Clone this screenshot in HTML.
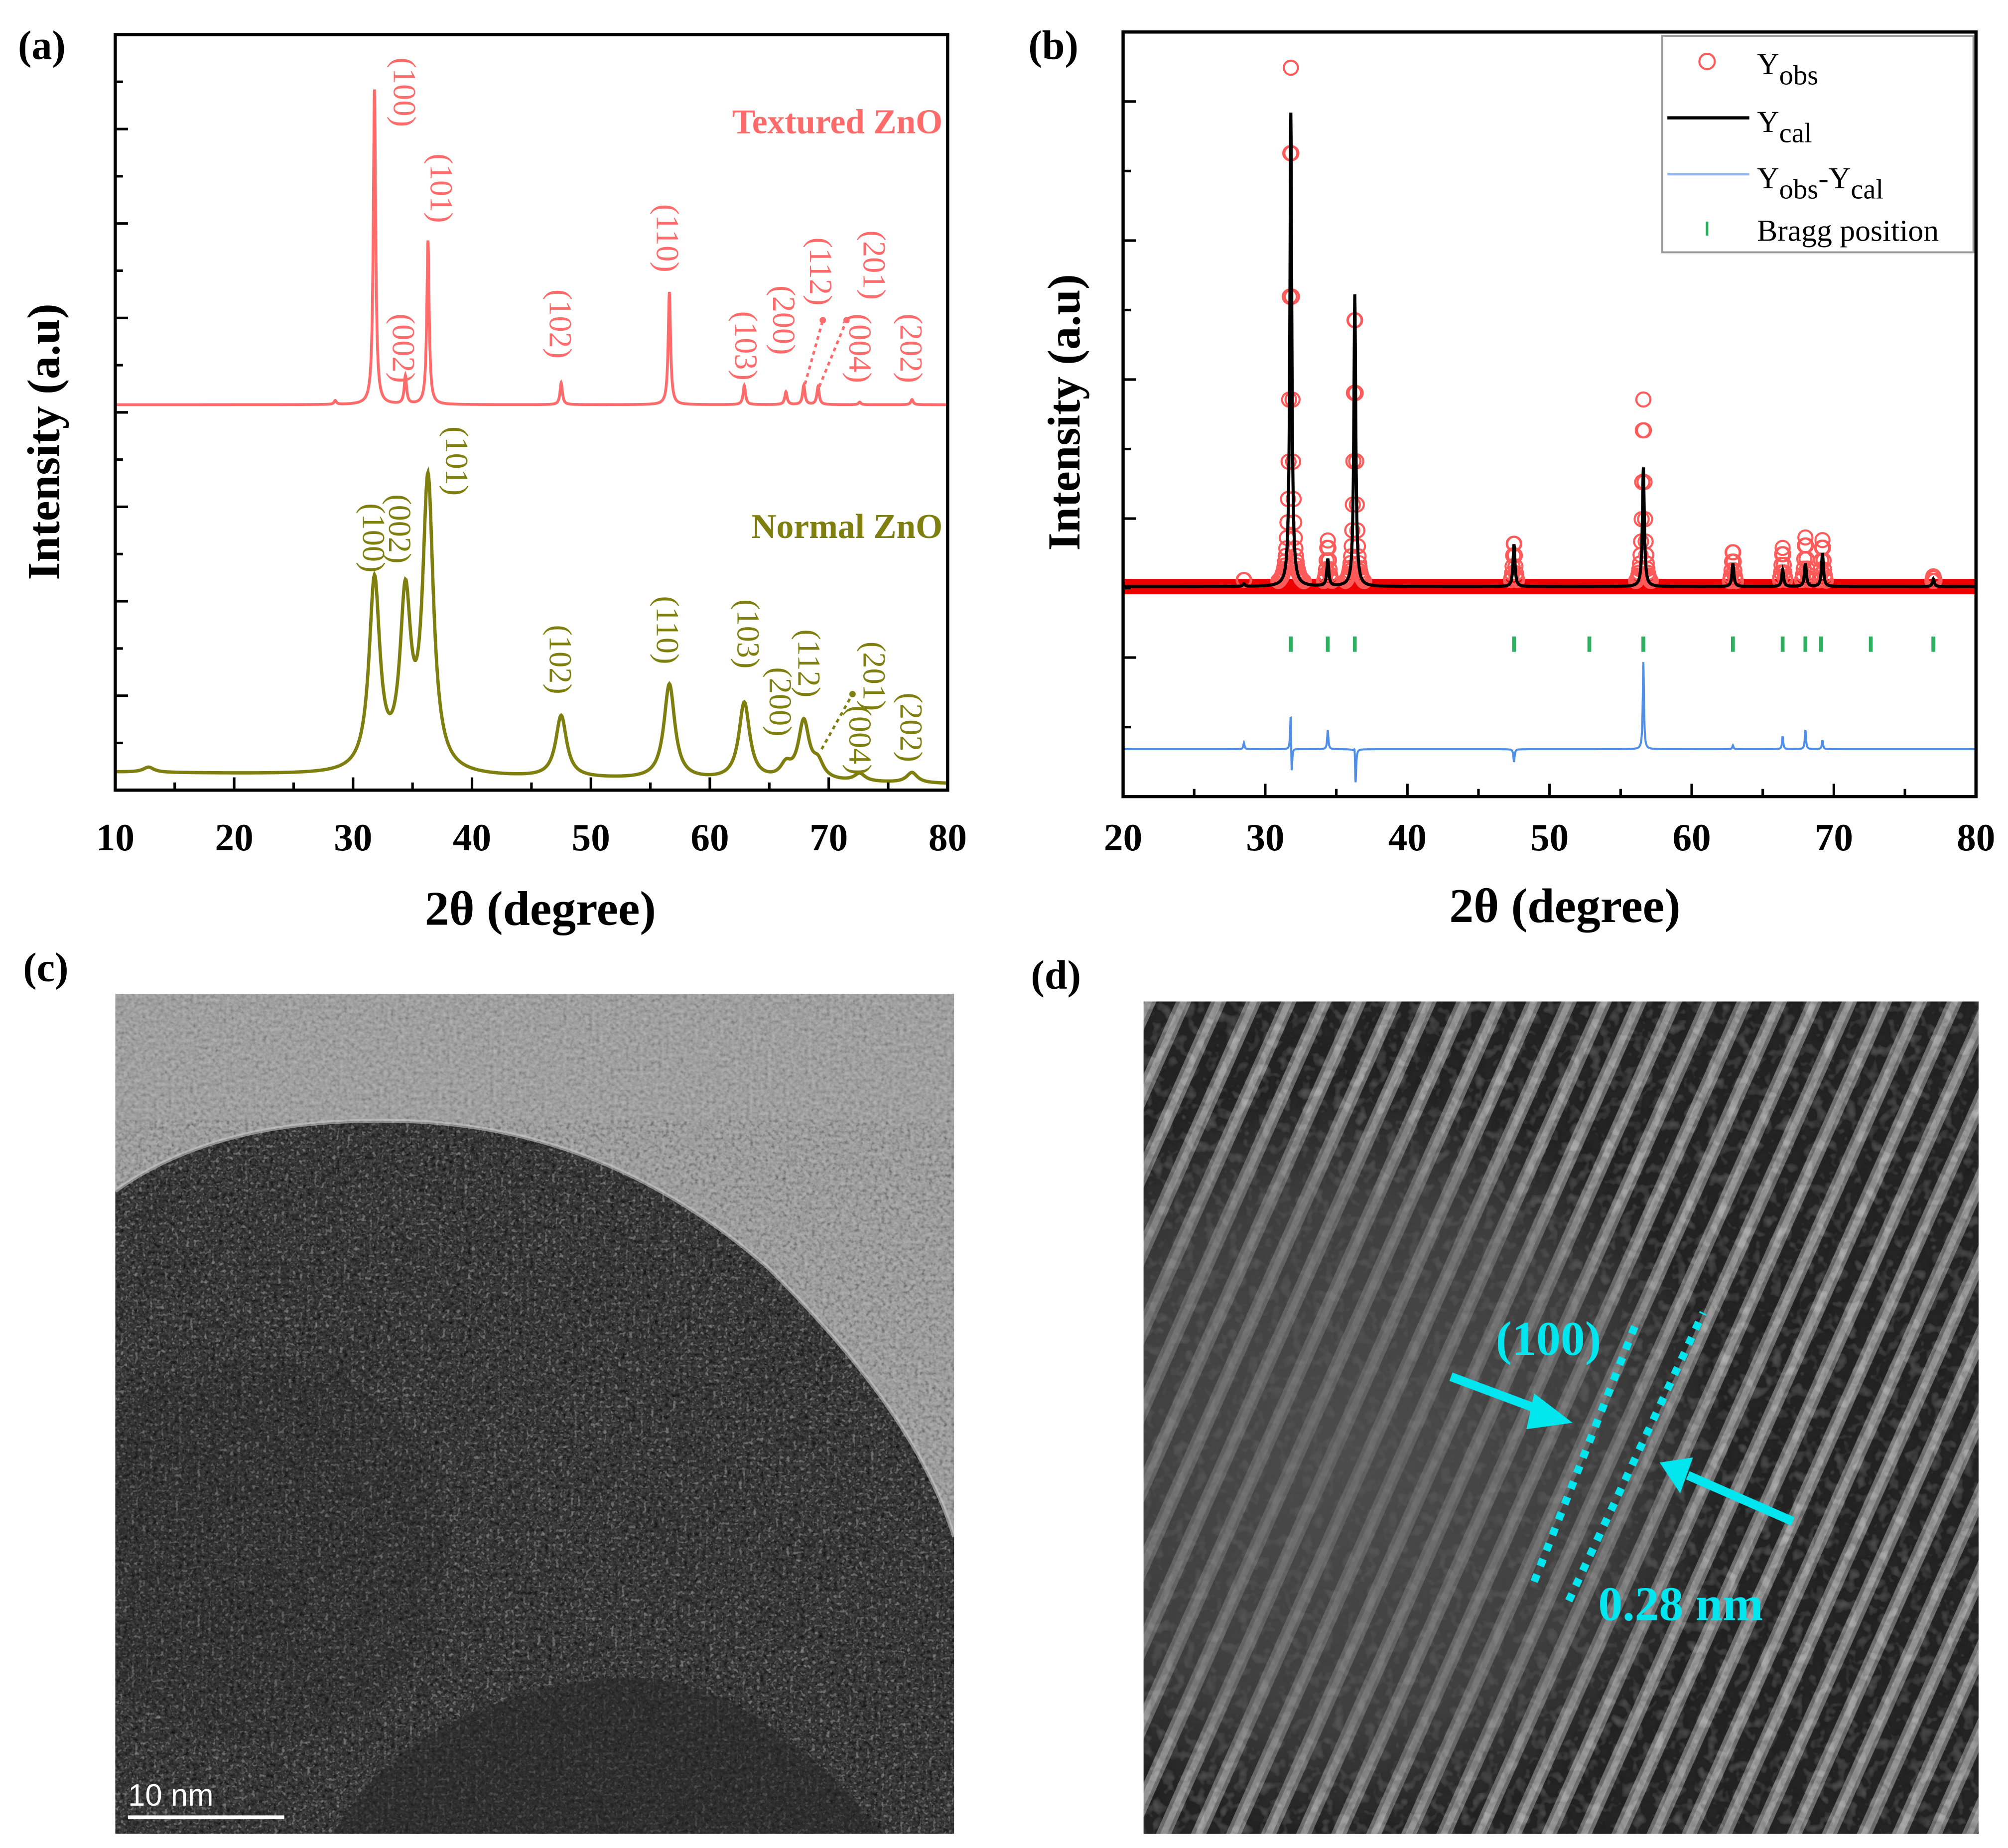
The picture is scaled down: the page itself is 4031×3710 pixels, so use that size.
<!DOCTYPE html>
<html><head><meta charset="utf-8"><style>
html,body{margin:0;padding:0;background:#fff;}
svg{display:block;}
text{font-family:"Liberation Serif",serif;}
</style></head><body>
<svg id="fig" width="4031" height="3710" viewBox="0 0 1568 1443" preserveAspectRatio="none" xmlns="http://www.w3.org/2000/svg">
<defs>
<filter id="noiseC" x="0" y="0" width="1" height="1">
<feTurbulence type="fractalNoise" baseFrequency="0.35" numOctaves="2" seed="3" result="n"/>
<feColorMatrix type="saturate" values="0" in="n" result="g"/>
<feComposite in="g" in2="SourceGraphic" operator="arithmetic" k1="0" k2="0.55" k3="0.7" k4="-0.28"/>
</filter>
<filter id="noiseD" x="0" y="0" width="1" height="1">
<feTurbulence type="fractalNoise" baseFrequency="0.12" numOctaves="2" seed="7" result="n"/>
<feColorMatrix type="saturate" values="0" in="n" result="g"/>
<feComposite in="g" in2="SourceGraphic" operator="arithmetic" k1="0" k2="0.6" k3="0.8" k4="-0.3"/>
</filter>
<clipPath id="clipC"><rect x="90" y="776" width="655" height="656"/></clipPath>
<pattern id="stripes" patternUnits="userSpaceOnUse" width="25" height="25" patternTransform="rotate(24)">
<rect width="25" height="25" fill="#323232"/>
<rect x="7" width="11" height="25" fill="#9a9a9a"/>
<rect x="10" width="5" height="25" fill="#d0d0d0"/>
</pattern>
<radialGradient id="dfade" cx="0.25" cy="0.55" r="0.45">
<stop offset="0" stop-color="#5a5a5a" stop-opacity="0.75"/>
<stop offset="0.7" stop-color="#5a5a5a" stop-opacity="0.5"/>
<stop offset="1" stop-color="#5a5a5a" stop-opacity="0"/>
</radialGradient>
</defs>

<text x="14" y="46" font-size="32" font-weight="bold">(a)</text>
<text x="803" y="46" font-size="32" font-weight="bold">(b)</text>
<text x="18" y="766" font-size="32" font-weight="bold">(c)</text>
<text x="805" y="772" font-size="32" font-weight="bold">(d)</text>

<g id="chartA"></g>
<g id="chartB"></g>

<g clip-path="url(#clipC)">
<rect x="90" y="776" width="655" height="656" fill="#a6a6a6" filter="url(#noiseC)"/>
<path d="M90,930 C160,880 250,872 330,876 C430,882 520,920 600,990 C660,1050 720,1120 745,1200 L745,1432 L90,1432 Z" fill="#727272" filter="url(#noiseC)"/>
<path d="M90,930 C160,880 250,872 330,876 C430,882 520,920 600,990 C660,1050 720,1120 745,1200" fill="none" stroke="#c8c8c8" stroke-width="3" opacity="0.6"/>
<path d="M260,1432 C300,1360 380,1320 480,1310 C560,1305 630,1360 690,1432 Z" fill="#262626" opacity="0.5"/>
<ellipse cx="200" cy="1210" rx="150" ry="150" fill="#202020" opacity="0.15"/>
<line x1="100" y1="1419" x2="222" y2="1419" stroke="#fff" stroke-width="3"/>
<text x="100" y="1410" font-size="24" fill="#fff" style="font-family:'Liberation Sans',sans-serif">10 nm</text>
</g>

<g>
<rect x="893" y="782" width="652" height="650" fill="url(#stripes)"/>
<rect x="893" y="782" width="652" height="650" fill="#777" filter="url(#noiseD)" opacity="0.4"/>
<rect x="893" y="782" width="652" height="650" fill="url(#dfade)"/>
<g stroke="#00e5ee" stroke-width="6" stroke-dasharray="6,7" fill="none">
<line x1="1198" y1="1235" x2="1278" y2="1032"/>
<line x1="1225" y1="1250" x2="1330" y2="1025"/>
</g>
<g fill="#00e5ee" stroke="#00e5ee">
<line x1="1133" y1="1075" x2="1208" y2="1103" stroke-width="7"/>
<polygon points="1228,1111 1198,1088 1192,1116" stroke="none"/>
<line x1="1400" y1="1188" x2="1318" y2="1152" stroke-width="7"/>
<polygon points="1296,1142 1322,1138 1312,1166" stroke="none"/>
</g>
<text x="1168" y="1058" font-size="38" font-weight="bold" fill="#00e5ee">(100)</text>
<text x="1248" y="1265" font-size="38" font-weight="bold" fill="#00e5ee">0.28 nm</text>
</g>
</svg>
<script>
// ---------- Panel (a) data ----------
const texPeakPos = [28.5, 31.8, 34.4, 36.3, 47.5, 56.6, 62.9, 66.4, 67.9, 69.1, 72.6, 77.0];
const texPeakH   = [3, 246, 22, 128, 17, 88, 15, 10, 15, 14, 2, 4];
const normPeakPos = [12.8, 31.8, 34.4, 36.3, 47.5, 56.6, 62.9, 66.4, 67.9, 69.1, 72.6, 77.0];
const normPeakH   = [4, 148, 130, 225, 48, 74, 60, 10, 45, 12, 6, 8];
const texLabels = ["(100)","(002)","(101)","(102)","(110)","(103)","(200)","(112)","(004)","(201)","(202)"];
const texLabelX = [34.4, 34.3, 37.5, 47.5, 56.5, 63.1, 66.3, 69.4, 72.7, 73.9, 77.0];
const texLabelY = [72, 272, 147, 253, 186, 270, 250, 212, 272, 207, 272];
const normLabels = ["(100)","(002)","(101)","(102)","(110)","(103)","(200)","(112)","(201)","(004)","(202)"];
const normLabelX = [31.8, 34.0, 38.8, 47.5, 56.5, 63.3, 66.0, 68.4, 73.9, 72.7, 77.0];
const normLabelY = [420, 413, 360, 515, 492, 495, 548, 518, 528, 578, 568];
const xTicksA = [10,20,30,40,50,60,70,80];
// ---------- Panel (b) data ----------
const calPeakPos = [28.5, 31.8, 34.4, 36.3, 47.5, 56.6, 62.9, 66.4, 68.0, 69.2, 77.0];
const calPeakH   = [2, 370, 21, 228, 33, 93, 18, 13, 18, 26, 6];
const obsPeakH   = [5, 405, 35, 218, 35, 146, 28, 30, 38, 36, 8];
const braggPos = [31.8, 34.4, 36.3, 47.5, 52.8, 56.6, 62.9, 66.4, 68.0, 69.1, 72.6, 77.0];
const diffPos = [28.5, 31.8, 31.85, 34.4, 36.3, 36.35, 47.5, 56.6, 62.9, 66.4, 68.0, 69.2];
const diffVal = [5, 42, -35, 15, 12, -32, -10, 68, 3, 10, 15, 7];
const xTicksB = [20,30,40,50,60,70,80];

const NS = "http://www.w3.org/2000/svg";
function mk(tag, attrs, parent){ const e=document.createElementNS(NS,tag); for(const k in attrs) e.setAttribute(k,attrs[k]); parent.appendChild(e); return e; }
function lor(x, pos, h, w){ let s=0; for(let i=0;i<pos.length;i++){ const d=(x-pos[i])/w; s+=h[i]/(1+d*d);} return s; }

(function(){
  const g=document.getElementById('chartA');
  const L=90,R=740,T=27,B=617, x0=10,x1=80;
  const X=v=>L+(v-x0)*(R-L)/(x1-x0);
  let d="";
  for(let v=10; v<=80; v+=0.02){ const y=316-lor(v,texPeakPos,texPeakH,0.12); d+=(d?"L":"M")+X(v).toFixed(2)+","+y.toFixed(2); }
  let p=mk('path',{d:d,fill:'none',stroke:'#ff6b6b','stroke-width':2.2},g);
  
  
  d="";
  for(let v=10; v<=80; v+=0.05){ const base=603+(v-10)*0.13; const y=base-lor(v,normPeakPos,normPeakH,0.55); d+=(d?"L":"M")+X(v).toFixed(2)+","+y.toFixed(2); }
  p=mk('path',{d:d,fill:'none',stroke:'#7f7f10','stroke-width':2.6},g);
  
  
  let f=mk('rect',{x:L,y:T,width:R-L,height:B-T,fill:'none',stroke:'#000','stroke-width':2.5},g);
  
  
  for(let i=0;i<=16;i++){ const y=B-i*(B-T)/16; const len=(i%2==0)?10:6; mk('line',{x1:L,y1:y,x2:L+len,y2:y,stroke:'#000','stroke-width':2},g); }
  for(let v=10; v<=80; v+=5){ const len=(v%10==0)?10:6; mk('line',{x1:X(v),y1:B,x2:X(v),y2:B-len,stroke:'#000','stroke-width':2},g); }
  xTicksA.forEach(v=>{ const t=mk('text',{x:X(v),y:664,'font-size':30,'font-weight':'bold','text-anchor':'middle'},g); t.textContent=v;
    
     });
  let t=mk('text',{x:422,y:722,'font-size':38,'font-weight':'bold','text-anchor':'middle'},g); t.textContent='2θ (degree)';
  
  
  t=mk('text',{x:0,y:0,'font-size':36,'font-weight':'bold','text-anchor':'middle',transform:'translate(46,345) rotate(-90)'},g); t.textContent='Intensity (a.u)';
  
  
  t=mk('text',{x:736,y:104,'font-size':27,'font-weight':'bold','text-anchor':'end',fill:'#ff6b6b'},g); t.textContent='Textured ZnO';
  
  
  t=mk('text',{x:736,y:420,'font-size':27,'font-weight':'bold','text-anchor':'end',fill:'#7f7f10'},g); t.textContent='Normal ZnO';
  
  
  texLabels.forEach((s,i)=>{ const tt=mk('text',{x:0,y:0,'font-size':25,fill:'#ff6b6b','text-anchor':'middle',transform:`translate(${X(texLabelX[i])-9},${texLabelY[i]}) rotate(90)`},g); tt.textContent=s;
    
     });
  normLabels.forEach((s,i)=>{ const tt=mk('text',{x:0,y:0,'font-size':25,fill:'#7f7f10','text-anchor':'middle',transform:`translate(${X(normLabelX[i])-9},${normLabelY[i]}) rotate(90)`},g); tt.textContent=s;
    
     });
  [[68.0,300,69.5,250,'#ff6b6b'],[69.2,302,71.5,250,'#ff6b6b'],[69.4,585,72.0,542,'#7f7f10']].forEach(a=>{
    const l=mk('line',{x1:X(a[0]),y1:a[1],x2:X(a[2]),y2:a[3],stroke:a[4],'stroke-width':2,'stroke-dasharray':'3,3'},g);
    
    
    mk('circle',{cx:X(a[2]),cy:a[3],r:2.5,fill:a[4]},g);
  });
})();

(function(){
  const g=document.getElementById('chartB');
  const L=877,R=1543,T=25,B=622, x0=20,x1=80;
  const X=v=>L+(v-x0)*(R-L)/(x1-x0);
  const base=458;
  let band=mk('line',{x1:L,y1:base,x2:R,y2:base,stroke:'#ee0000','stroke-width':12},g);
  
  
  const obsG=mk('g',{},g);
  
  
  for(let v=20; v<=80; v+=0.04){
    const y=base-lor(v,calPeakPos,obsPeakH,0.09);
    if(base-y>4){ const c=mk('circle',{cx:X(v),cy:y,r:5.5,fill:'none',stroke:'#ff5a5a','stroke-width':1.6},obsG);
      
       }
  }
  let d="";
  for(let v=20; v<=80; v+=0.02){ const y=base-lor(v,calPeakPos,calPeakH,0.08); d+=(d?"L":"M")+X(v).toFixed(2)+","+y.toFixed(2); }
  let p=mk('path',{d:d,fill:'none',stroke:'#000','stroke-width':2.4},g);
  
  
  braggPos.forEach(v=>{ const l=mk('line',{x1:X(v),y1:497,x2:X(v),y2:509,stroke:'#2fb060','stroke-width':3},g);
    
     });
  d="";
  for(let v=20; v<=80; v+=0.02){ let s=0; for(let i=0;i<diffPos.length;i++){ const q=(v-diffPos[i])/0.05; s+=diffVal[i]/(1+q*q);} const y=585-s; d+=(d?"L":"M")+X(v).toFixed(2)+","+y.toFixed(2); }
  p=mk('path',{d:d,fill:'none',stroke:'#4f8fe8','stroke-width':1.6},g);
  
  
  let f=mk('rect',{x:L,y:T,width:R-L,height:B-T,fill:'none',stroke:'#000','stroke-width':2.5},g);
  
  
  for(let i=0;i<=11;i++){ const y=B-i*(B-T)/11; const len=(i%2==0)?10:6; mk('line',{x1:L,y1:y,x2:L+len,y2:y,stroke:'#000','stroke-width':2},g); }
  for(let v=20; v<=80; v+=5){ const len=(v%10==0)?10:6; mk('line',{x1:X(v),y1:B,x2:X(v),y2:B-len,stroke:'#000','stroke-width':2},g); }
  xTicksB.forEach(v=>{ const t=mk('text',{x:X(v),y:664,'font-size':30,'font-weight':'bold','text-anchor':'middle'},g); t.textContent=v;
    
     });
  let t=mk('text',{x:1222,y:720,'font-size':38,'font-weight':'bold','text-anchor':'middle'},g); t.textContent='2θ (degree)';
  
  
  t=mk('text',{x:0,y:0,'font-size':36,'font-weight':'bold','text-anchor':'middle',transform:'translate(843,322) rotate(-90)'},g); t.textContent='Intensity (a.u)';
  
  
  const lg=mk('g',{},g);
  
  
  mk('rect',{x:1298,y:28,width:243,height:169,fill:'#fff',stroke:'#999','stroke-width':1.5},lg);
  mk('circle',{cx:1333,cy:48,r:6,fill:'none',stroke:'#ff5a5a','stroke-width':1.6},lg);
  mk('line',{x1:1302,y1:92,x2:1366,y2:92,stroke:'#000','stroke-width':2.5},lg);
  mk('line',{x1:1302,y1:136,x2:1366,y2:136,stroke:'#8fb6f0','stroke-width':2},lg);
  mk('line',{x1:1333,y1:173,x2:1333,y2:184,stroke:'#2fb060','stroke-width':2},lg);
  const items=[['Y','obs',58],['Y','cal',103],['Y','obs',147],['Bragg position','',188]];
  items.forEach((it,i)=>{
    const tt=mk('text',{x:1372,y:it[2],'font-size':24},lg);
    
    
    if(i==3){ tt.textContent=it[0]; return; }
    const a=mk('tspan',{},tt); a.textContent='Y';
    const b=mk('tspan',{dy:8,'font-size':22},tt); b.textContent=it[1];
    if(i==2){ const c=mk('tspan',{dy:-8},tt); c.textContent='-Y'; const e=mk('tspan',{dy:8,'font-size':22},tt); e.textContent='cal'; }
  });
})();
</script>
</body></html>
